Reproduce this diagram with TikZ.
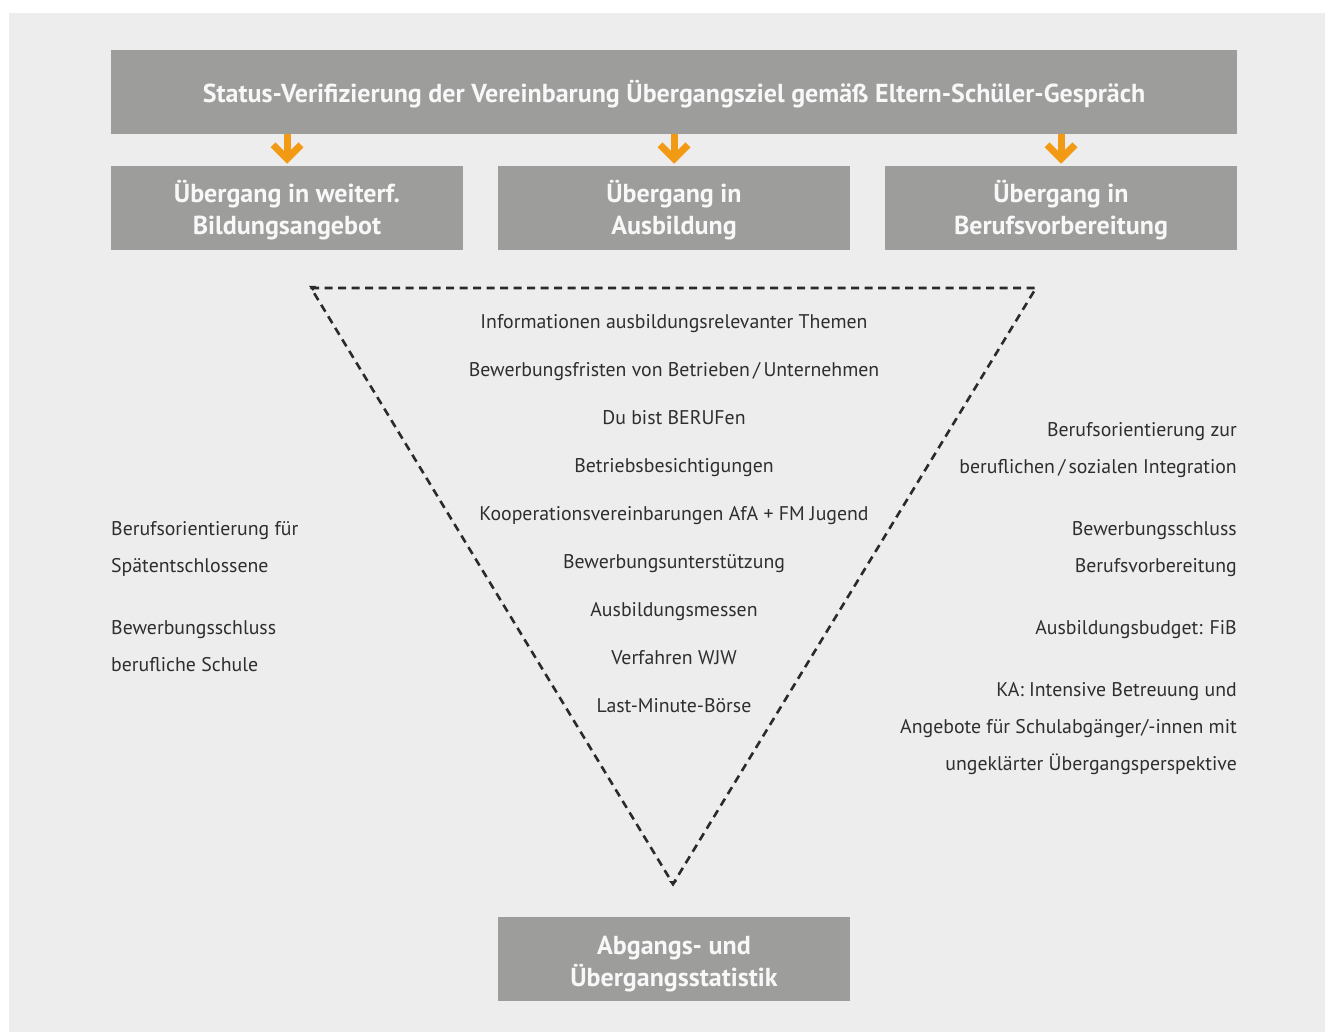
\documentclass[tikz,border=0pt]{standalone}
\usepackage{fontspec}
\setmainfont{PT Sans}
\usetikzlibrary{calc}
\definecolor{bggray}{HTML}{EDEDED}
\definecolor{boxgray}{HTML}{9D9D9C}
\definecolor{boxtext}{HTML}{F8F8F8}
\definecolor{txt}{HTML}{2E2E2E}
\definecolor{arrorange}{HTML}{F39A14}
\definecolor{dashcol}{HTML}{2A2A2A}
% box text block, pushed down by #1
\newcommand{\boxblock}[2]{\raisebox{0pt}[\dimexpr\height+#1+#1\relax][\depth]{\begin{tabular}{@{}c@{}}#2\end{tabular}}}
\tikzset{
  greybox/.style={fill=boxgray, draw=none, text=boxtext, inner sep=0pt,
    font=\bfseries\fontsize{26}{32}\selectfont},
  smallbox/.style={greybox, minimum width=352pt, minimum height=84pt},
  item/.style={text=txt, anchor=base, inner sep=0pt, font=\fontsize{19.8}{22}\selectfont},
  sidetext/.style={text=txt, inner sep=0pt, font=\fontsize{19.8}{37}\selectfont},
  orangearr/.style={draw=arrorange, line width=7pt, line cap=butt, line join=miter},
  tri/.style={draw=dashcol, line width=2.6pt, dash pattern=on 8pt off 5.5pt},
}
\begin{document}
\begin{tikzpicture}[x=1pt,y=-1pt]
\useasboundingbox (0,0) rectangle (1325,1032);
\fill[white] (0,0) rectangle (1325,1032);
\fill[bggray] (9,13) rectangle (1325,1032);

% boxes
\node[greybox, minimum width=1126pt, minimum height=84pt] (top) at (674,92)
  {\boxblock{3.7pt}{Status-Verifizierung der Vereinbarung Übergangsziel gemäß Eltern-Schüler-Gespräch}};
\node[smallbox] (b1) at (287,208) {\boxblock{3.7pt}{Übergang in weiterf.\\Bildungsangebot}};
\node[smallbox] (b2) at (674,208) {\boxblock{3.7pt}{Übergang in\\Ausbildung}};
\node[smallbox] (b3) at (1061,208) {\boxblock{3.7pt}{Übergang in\\Berufsvorbereitung}};
\node[smallbox] (stat) at (674,959) {\boxblock{4.7pt}{Abgangs- und\\Übergangsstatistik}};

% orange arrows
\foreach \b in {b1,b2,b3}{
  \draw[orangearr] (top.south -| \b.north) -- ($(\b.north)+(0,-8)$);
  \draw[orangearr] ($(\b.north)+(-14,-21)$) -- ($(\b.north)+(0,-7)$) -- ($(\b.north)+(14,-21)$);
}

% dashed triangle
\coordinate (tl) at (311,288);
\coordinate (tr) at (1036,288);
\coordinate (bt) at (673,884);
\draw[tri] (tl) -- (tr) -- (bt) -- cycle;
\fill[dashcol] ($(tl)+(-2,-2)$) -- ($(tl)+(5,-2)$) -- ($(tl)+(2,3)$) -- cycle;
\fill[dashcol] ($(bt)+(-4,-3)$) -- ($(bt)+(4,-3)$) -- ($(bt)+(0,2)$) -- cycle;

% centre items
\foreach \t [count=\i] in {Informationen ausbildungsrelevanter Themen,
  Bewerbungsfristen von Betrieben\,/\,Unternehmen,
  Du bist BERUFen,
  Betriebsbesichtigungen,
  Kooperationsvereinbarungen AfA + FM Jugend,
  Bewerbungsunterstützung,
  Ausbildungsmessen,
  Verfahren WJW,
  Last-Minute-Börse}{
  \node[item] (c\i) at (674,{280+48*\i}) {\t};
}

% left texts (base = last line)
\node[sidetext, anchor=base west, align=left] (l1) at (111,572)
  {Berufsorientierung für\\Spätentschlossene};
\node[sidetext, anchor=base west, align=left] (l2) at (111,671)
  {Bewerbungsschluss\\berufliche Schule};

% right texts (base = last line)
\node[sidetext, anchor=base east, align=right] (r1) at (1237,473)
  {Berufsorientierung zur\\beruflichen\,/\,sozialen Integration};
\node[sidetext, anchor=base east, align=right] (r2) at (1237,572)
  {Bewerbungsschluss\\Berufsvorbereitung};
\node[sidetext, anchor=base east, align=right] (r3) at (1237,634)
  {Ausbildungsbudget: FiB};
\node[sidetext, anchor=base east, align=right] (r4) at (1237,770)
  {KA: Intensive Betreuung und\\Angebote für Schulabgänger/-innen mit\\ungeklärter Übergangsperspektive};
\end{tikzpicture}
\end{document}
